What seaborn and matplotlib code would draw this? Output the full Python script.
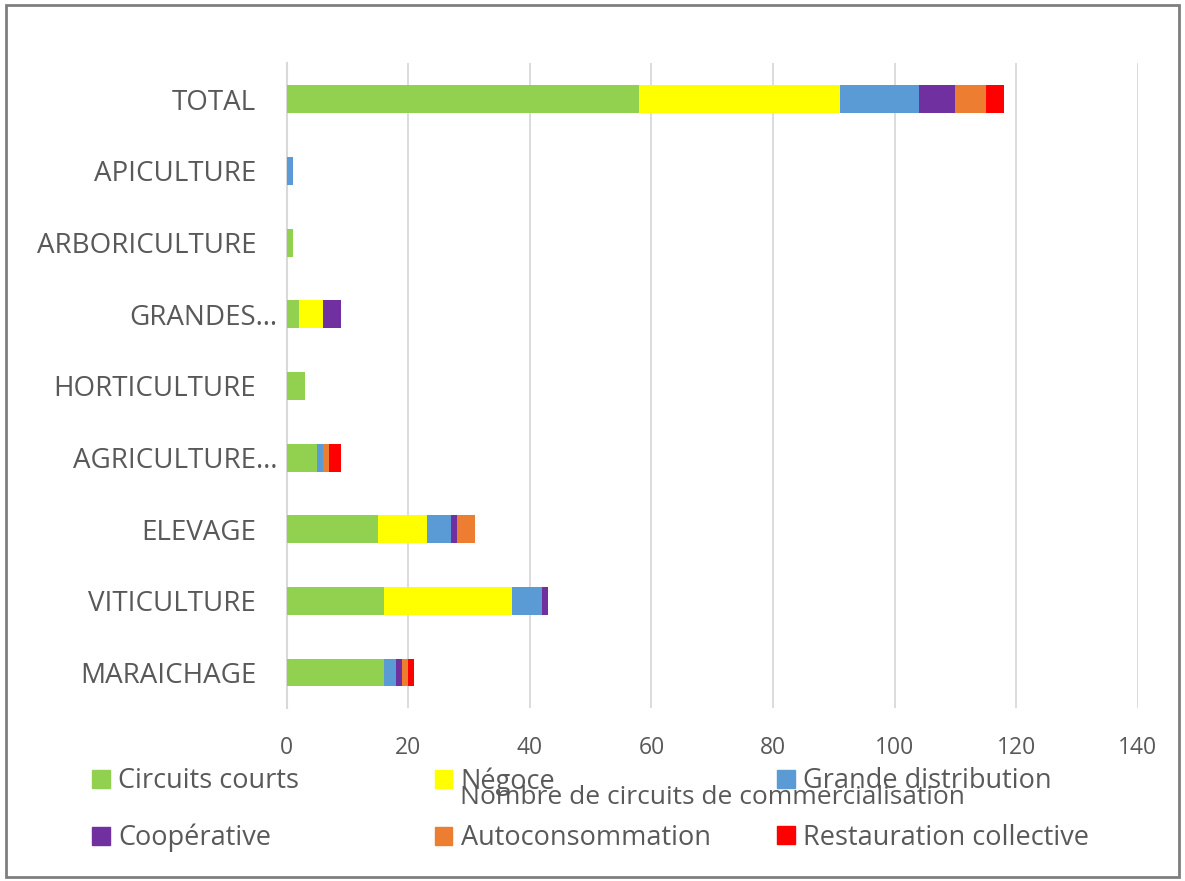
import pandas as pd
import seaborn as sns
import matplotlib.pyplot as plt
import matplotlib.patches as mpatches
from matplotlib.transforms import ScaledTranslation

categories = ['TOTAL', 'APICULTURE', 'ARBORICULTURE', 'GRANDES…', 'HORTICULTURE',
              'AGRICULTURE…', 'ELEVAGE', 'VITICULTURE', 'MARAICHAGE']
circuits_courts = [58, 0, 1, 2, 3, 5, 15, 16, 16]
negoce = [33, 0, 0, 4, 0, 0, 8, 21, 0]
grande_distribution = [13, 1, 0, 0, 0, 1, 4, 5, 2]
cooperative = [6, 0, 0, 3, 0, 0, 1, 1, 1]
autoconsommation = [5, 0, 0, 0, 0, 1, 3, 0, 1]
restauration = [3, 0, 0, 0, 0, 2, 0, 0, 1]

series = {
    'Circuits courts': circuits_courts,
    'Négoce': negoce,
    'Grande distribution': grande_distribution,
    'Coopérative': cooperative,
    'Autoconsommation': autoconsommation,
    'Restauration collective': restauration,
}
colors = ['#92d050', '#ffff00', '#5b9bd5', '#7030a0', '#ed7d31', '#ff0000']

sns.set_theme(style='white')
plt.rcParams['font.family'] = ['Open Sans', 'DejaVu Sans']
text_color = '#595959'

fig = plt.figure(figsize=(11.85, 8.81), dpi=100)
ax = fig.add_axes([0.242, 0.196, 0.718, 0.732])

left = [0] * len(categories)
handles = []
for (name, vals), col in zip(series.items(), colors):
    df = pd.DataFrame({'cat': categories, 'val': vals, 'left': left})
    ax.barh(df['cat'], df['val'], left=df['left'], height=0.39, color=col,
            linewidth=0, zorder=3)
    left = [a + b for a, b in zip(left, vals)]
    handles.append(mpatches.Patch(color=col, label=name))

ax.set_ylim(len(categories) - 0.5, -0.5)
ax.set_xlim(0, 140)
ax.set_xticks(range(0, 141, 20))
ax.xaxis.grid(True, color='#d9d9d9', linewidth=1.3, zorder=0)
ax.yaxis.grid(False)
for s in ['top', 'right', 'bottom']:
    ax.spines[s].set_visible(False)
ax.spines['left'].set_color('#d9d9d9')
ax.spines['left'].set_linewidth(1.5)
ax.tick_params(axis='x', length=0, labelsize=16.5, labelcolor=text_color, pad=20)
ax.tick_params(axis='y', length=0, labelsize=20, labelcolor=text_color, pad=22)

for lab in ax.get_yticklabels():
    if lab.get_text().endswith('…'):
        lab.set_transform(lab.get_transform() + ScaledTranslation(0.21, 0, fig.dpi_scale_trans))

# the axis title sits in the legend band, as in the original chart
ax.set_xlabel('Nombre de circuits de commercialisation', fontsize=19,
              color=text_color, labelpad=18)

# legend: three columns of equal width, entries filled row by row
col_x = [0.078, 0.367, 0.656]
for i, x in enumerate(col_x):
    fig.legend(handles=[handles[i], handles[i + 3]], loc='upper left',
               bbox_to_anchor=(x, 0.129), frameon=False, fontsize=19.5,
               labelcolor=text_color, handlelength=0.65, handleheight=0.65,
               handletextpad=0.3, labelspacing=1.05, borderpad=0, borderaxespad=0)

fig.add_artist(mpatches.Rectangle((0.005, 0.004), 0.99, 0.99, transform=fig.transFigure,
                                  fill=False, edgecolor='#7f7f7f', linewidth=2))

fig.savefig('out.png', dpi=100)
